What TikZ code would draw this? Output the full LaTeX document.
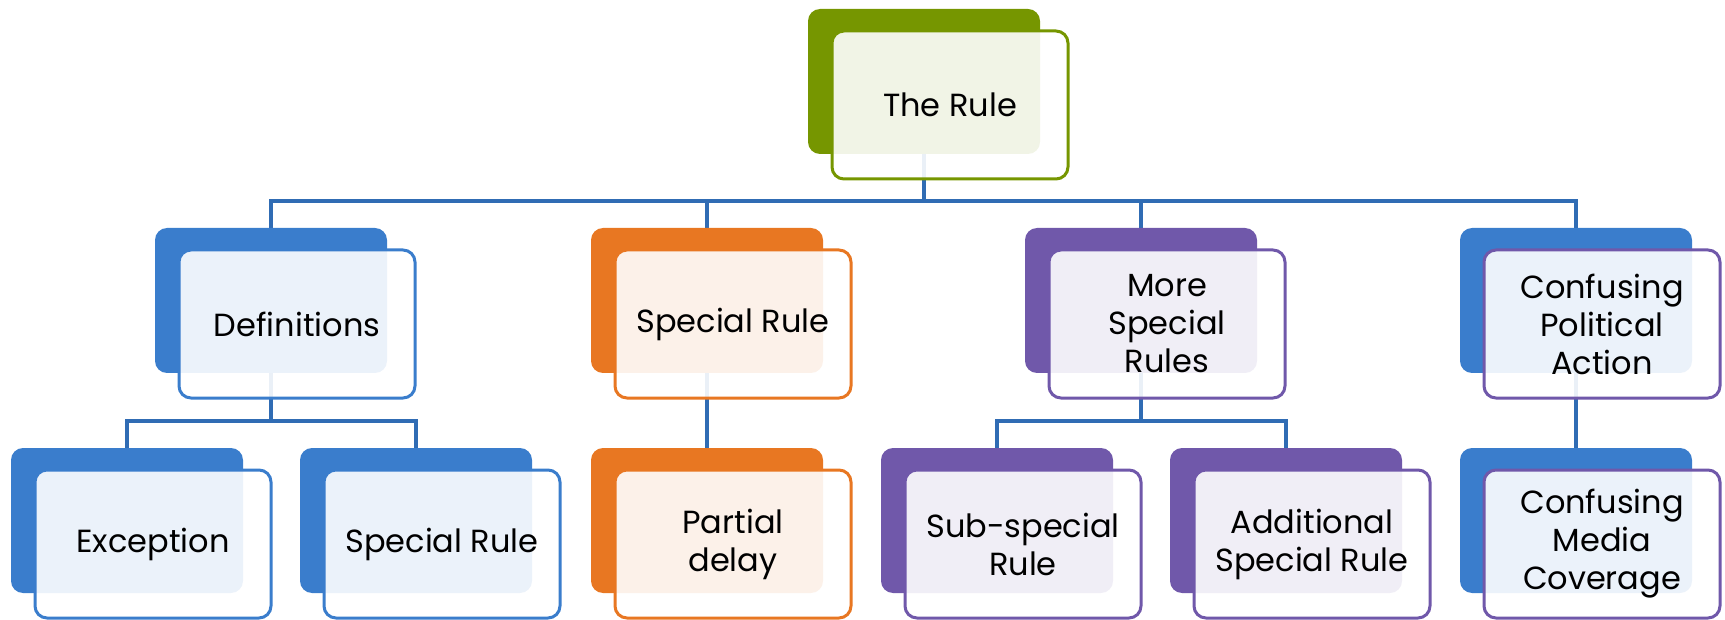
\documentclass[tikz,border=0pt]{standalone}
\usepackage{fontspec}
\setmainfont{Poppins}
\usetikzlibrary{positioning,backgrounds}

\definecolor{ruleGreen}{RGB}{118,150,0}
\definecolor{ruleBlue}{RGB}{58,125,204}
\definecolor{ruleOrange}{RGB}{232,119,34}
\definecolor{rulePurple}{RGB}{112,88,170}
\definecolor{linkBlue}{RGB}{48,108,180}
\newcommand\boxfont{\fontsize{32}{38}\selectfont}

\tikzset{
  back/.style={fill=#1, rounded corners=12pt, minimum width=232pt, minimum height=145pt, inner sep=0pt},
  front/.style={draw=#1, line width=3pt, fill=white, fill opacity=0.9, text opacity=1,
    rounded corners=12pt, minimum width=236pt, minimum height=148pt, inner sep=0pt,
    xshift=26pt, yshift=-23.5pt, align=center, font=\boxfont},
  link/.style={draw=linkBlue, line width=3.5pt}
}

\begin{document}
\begin{tikzpicture}[x=1pt, y=-1pt]
	\useasboundingbox (0,0) rectangle (1725,620);
	
	% Caja principal
	\node[back=ruleGreen] (top-b) at (924,81.5) {};
	\node[front=ruleGreen] (top) at (top-b) {The Rule};
	
	% Primer nivel
	\node[back=ruleBlue] (def-b) at (271,300.5) {};
	\node[front=ruleBlue] (def) at (def-b) {Definitions};
	\node[back=ruleOrange] (spec-b) at (707,300.5) {};
	\node[front=ruleOrange] (spec) at (spec-b) {Special Rule};
	\node[back=rulePurple] (more-b) at (1141,300.5) {};
	\node[front=rulePurple] (more) at (more-b) {More\\Special\\Rules};
	\node[back=ruleBlue] (conf-b) at (1576,300.5) {};
	\node[front=rulePurple] (conf) at (conf-b) {Confusing\\Political\\Action};
	
	% Segundo nivel
	\node[back=ruleBlue] (exc-b) at (127,520.5) {};
	\node[front=ruleBlue] (exc) at (exc-b) {Exception};
	\node[back=ruleBlue] (sr-b) at (416,520.5) {};
	\node[front=ruleBlue] (sr) at (sr-b) {Special Rule};
	\node[back=ruleOrange] (part-b) at (707,520.5) {};
	\node[front=ruleOrange] (part) at (part-b) {Partial\\delay};
	\node[back=rulePurple] (sub-b) at (997,520.5) {};
	\node[front=rulePurple] (sub) at (sub-b) {Sub-special\\Rule};
	\node[back=rulePurple] (add-b) at (1286,520.5) {};
	\node[front=rulePurple] (add) at (add-b) {Additional\\Special Rule};
	\node[back=ruleBlue] (media-b) at (1576,520.5) {};
	\node[front=rulePurple] (media) at (media-b) {Confusing\\Media\\Coverage};
	
	% Conectores
	\coordinate (bus0) at (924,201);
	\coordinate (bus1) at (271,421);
	\coordinate (bus2) at (1141,421);
	\begin{pgfonlayer}{background}
		\foreach \c in {def-b,spec-b,more-b,conf-b}
			\draw[link] (top-b.center) -- (bus0) -| (\c.center);
		\foreach \c in {exc-b,sr-b}
			\draw[link] (def-b.center) -- (bus1) -| (\c.center);
		\foreach \c in {sub-b,add-b}
			\draw[link] (more-b.center) -- (bus2) -| (\c.center);
		\draw[link] (spec-b.center) -- (part-b.center);
		\draw[link] (conf-b.center) -- (media-b.center);
	\end{pgfonlayer}
\end{tikzpicture}
\end{document}
